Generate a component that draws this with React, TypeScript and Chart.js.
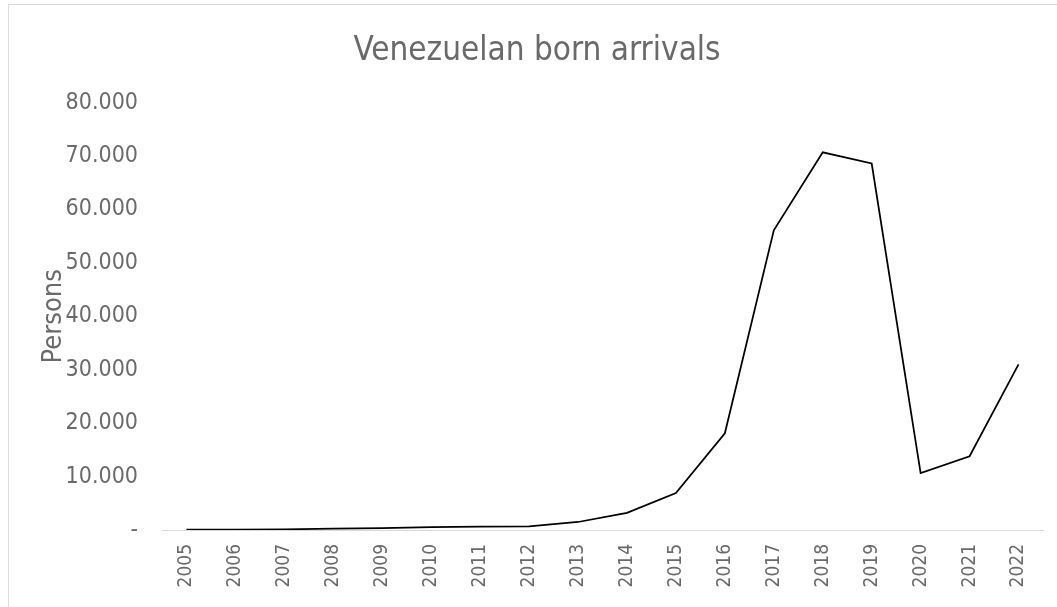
import React, { useEffect, useRef } from "react";
import { Chart, registerables } from "chart.js";

Chart.register(...registerables);

const years: string[] = [
  "2005", "2006", "2007", "2008", "2009", "2010", "2011", "2012", "2013",
  "2014", "2015", "2016", "2017", "2018", "2019", "2020", "2021", "2022",
];
const arrivals: number[] = [
  50, 60, 120, 250, 350, 550, 650, 700, 1500,
  3200, 6900, 18100, 56100, 70700, 68600, 10650, 13800, 31000,
];
const yTicks: number[] = [0, 10000, 20000, 30000, 40000, 50000, 60000, 70000, 80000];

const titleText = "Venezuelan born arrivals";
const yTitleText = "Persons";

const FONT = "'DejaVu Sans Condensed', 'DejaVu Sans', sans-serif";
const GRAY = "#6a6a6a";

function fmt(v: number): string {
  if (v === 0) return "-";
  const s = Math.round(v).toString();
  return s.replace(/\B(?=(\d{3})+(?!\d))/g, ".");
}

export default function App() {
  const ref = useRef<HTMLCanvasElement | null>(null);
  useEffect(() => {
    if (!ref.current) return;
    const chart = new Chart(ref.current, {
      type: "line",
      data: {
        labels: years,
        datasets: [
          {
            data: arrivals,
            borderColor: "#000000",
            borderWidth: 1.75,
            pointRadius: 0,
            tension: 0,
            fill: false,
          },
        ],
      },
      options: {
        animation: false,
        responsive: false,
        maintainAspectRatio: false,
        layout: { padding: { left: 31, right: 14, top: 0, bottom: 0 } },
        plugins: {
          legend: { display: false },
          tooltip: { enabled: false },
          title: {
            display: true,
            text: titleText,
            color: GRAY,
            font: { family: FONT, size: 33, weight: "normal", lineHeight: 1.2 },
            padding: { top: 32, bottom: 31 },
          },
        },
        scales: {
          x: {
            type: "category",
            offset: true,
            grid: { display: false, drawTicks: false },
            border: { display: true, color: "#d9d9d9", width: 1 },
            ticks: {
              autoSkip: false,
              maxRotation: 90,
              minRotation: 90,
              padding: 14,
              color: GRAY,
              font: { family: FONT, size: 19 },
            },
            afterFit: (scale: any) => {
              scale.height = 77;
            },
          },
          y: {
            type: "linear",
            min: 0,
            max: 80000,
            afterBuildTicks: (scale: any) => {
              scale.ticks = yTicks.map((v) => ({ value: v }));
            },
            grid: { display: false, drawTicks: false },
            border: { display: false },
            ticks: {
              padding: 24,
              color: GRAY,
              font: { family: FONT, size: 23 },
              callback: (v: any) => fmt(Number(v)),
            },
            title: {
              display: true,
              text: yTitleText,
              color: GRAY,
              font: { family: FONT, size: 27, lineHeight: 1.2 },
              padding: { top: 7, bottom: 0 },
            },
            afterFit: (scale: any) => {
              scale.width = 131;
            },
          },
        },
      },
    });
    return () => chart.destroy();
  }, []);

  return (
    <div
      style={{
        position: "fixed",
        left: 0,
        top: 0,
        width: 1057,
        height: 607,
        background: "#ffffff",
        overflow: "hidden",
      }}
    >
      <canvas ref={ref} width={1057} height={607} style={{ display: "block" }} />
      <div
        style={{
          position: "absolute",
          left: 8,
          top: 4,
          width: 1049,
          height: 603,
          borderTop: "1px solid #d9d9d9",
          borderLeft: "1px solid #d9d9d9",
          pointerEvents: "none",
        }}
      />
    </div>
  );
}
